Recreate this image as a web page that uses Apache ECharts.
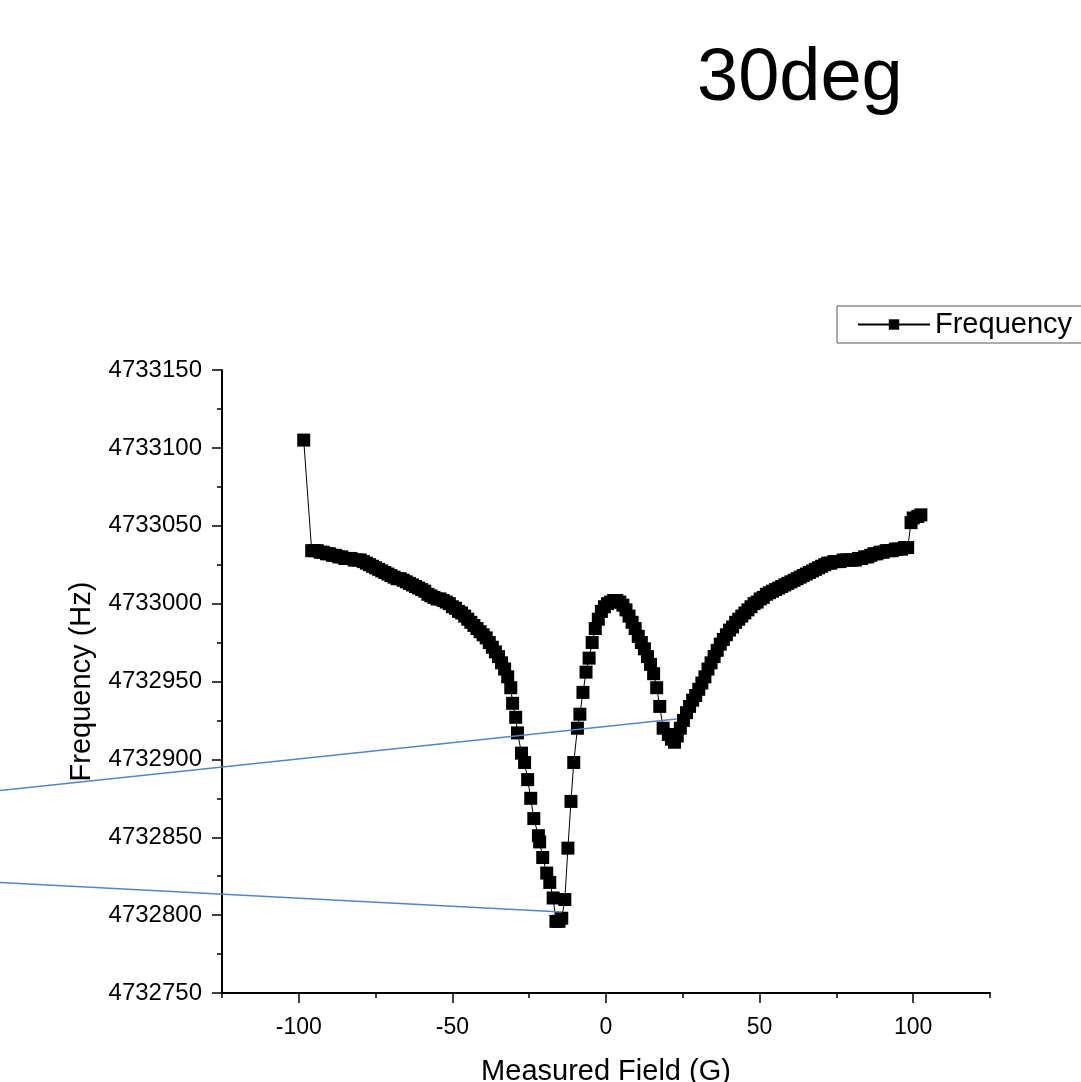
<!DOCTYPE html>
<html>
<head>
<meta charset="utf-8">
<script src="https://cdn.jsdelivr.net/npm/echarts@6/dist/echarts.min.js"></script>
<style>
html,body{margin:0;padding:0;background:#fff;}
#chart{width:1081px;height:1082px;}
</style>
</head>
<body>
<div id="chart"></div>
<script>
// Measured Field (G)
const fieldG = [
  -98.4, -95.8, -95, -94, -93, -92, -91, -90, -89, -88, -87, -86, -85, -84, -83, -82, -81, -80,
  -79, -78, -77, -76, -75, -74, -73, -72, -71, -70, -69, -68, -67, -66, -65, -64, -63, -62, -61,
  -60, -59, -58, -57, -56, -55, -54, -53, -52, -51, -50, -49, -48, -47, -46, -45, -44, -43, -42,
  -41, -40, -39, -38, -37, -36, -35, -34, -33, -32, -31,
  -30.4, -29.4, -28.8, -27.5, -26.5, -25.5, -24.5, -23.5, -22.0, -21.6, -20.6, -19.3, -18.3,
  -17.2, -16.3, -15.3, -14.4, -13.4, -12.4, -11.4, -10.5, -9.3, -8.5, -7.5, -6.5, -5.5, -4.5,
  -3.5, -2.5, -1.5, -0.5, 0.5, 1.5, 2.5, 3.5, 4.5, 5.5, 6.5, 7.5, 8.5, 9.5, 10.5, 11.5, 12.5,
  13.5, 14.5, 15.5, 16.5, 17.5, 18.6, 20.3, 21.3, 22.3, 23.2, 24.2, 25.2, 26.2, 27.2, 28.2,
  29.2, 30.2, 31.2, 32.2, 33.2, 34.2, 35.2, 36.2, 37.2, 38.2, 39.2, 40.2, 41.2, 42.2, 43.2,
  44.2, 45.2, 46.2, 47.2, 48.2, 49.2, 50.2, 51.2, 52.2, 53.2, 54.2, 55.2, 56.2, 57.2, 58.2,
  59.2, 60.2, 61.2, 62.2, 63.2, 64.2, 65.2, 66.2, 67.2, 68.2, 69.2, 70.2, 71.2, 72.2, 73.2,
  74.2, 75.2, 76.2, 77.2, 78.2, 79.2, 80.2, 81.2, 82.2, 83.2, 84.2, 85.2, 86.2, 87.2, 88.2,
  89.2, 90.2, 91.2, 92.2, 93.2, 94.2, 95.2, 96.2, 97.2, 98.2, 99.3, 100.0, 101.5, 102.5, 103.8
];
// Frequency (Hz)
const freqHz = [
  4733105, 4733034, 4733034, 4733034, 4733033, 4733033, 4733032, 4733032, 4733031, 4733031,
  4733030, 4733030, 4733029, 4733029, 4733029, 4733028, 4733028, 4733028,
  4733027, 4733026, 4733025, 4733024, 4733023, 4733022, 4733021, 4733020, 4733019, 4733018,
  4733017, 4733016, 4733016, 4733015, 4733014, 4733013, 4733012, 4733011, 4733010,
  4733009, 4733008, 4733006, 4733005, 4733004, 4733003, 4733003, 4733002, 4733001, 4733000,
  4732998, 4732997, 4732995, 4732994, 4732992, 4732990, 4732988, 4732986, 4732984,
  4732982, 4732980, 4732978, 4732975, 4732972, 4732969, 4732966, 4732962, 4732958, 4732953, 4732946,
  4732936, 4732927, 4732917, 4732904, 4732898, 4732887, 4732875, 4732862, 4732851, 4732847,
  4732837, 4732827, 4732821, 4732811, 4732796, 4732796, 4732798, 4732810, 4732843, 4732873,
  4732898, 4732920, 4732929, 4732943, 4732956, 4732965, 4732975, 4732984, 4732990, 4732995,
  4732998, 4733000, 4733001, 4733002, 4733002, 4733001, 4732999, 4732996, 4732992, 4732988,
  4732984, 4732979, 4732975, 4732971, 4732966, 4732961, 4732955, 4732946, 4732934,
  4732920, 4732916, 4732913, 4732911, 4732915, 4732920, 4732925, 4732930, 4732934,
  4732938, 4732941, 4732945, 4732949, 4732953, 4732958, 4732962, 4732966, 4732970, 4732974,
  4732977, 4732980, 4732983, 4732985, 4732988, 4732990, 4732992, 4732994, 4732996, 4732998,
  4733000, 4733001, 4733003, 4733004, 4733006, 4733007, 4733008, 4733009, 4733010, 4733011,
  4733012, 4733013, 4733014, 4733015, 4733016, 4733017, 4733018, 4733019, 4733020, 4733021,
  4733022, 4733023, 4733024, 4733025, 4733026, 4733026, 4733027, 4733027, 4733027, 4733028,
  4733028, 4733028, 4733028, 4733028, 4733029, 4733029, 4733030, 4733030, 4733031, 4733032,
  4733032, 4733033, 4733033, 4733034, 4733034, 4733034, 4733035, 4733035, 4733035, 4733036,
  4733036, 4733052, 4733055, 4733056, 4733057
];
// Blue annotation lines (field, frequency) endpoints
const annotA_G = [-197.3, 22.9];
const annotA_Hz = [4732880, 4732926];
const annotB_G = [-197.3, -14.4];
const annotB_Hz = [4732821, 4732802];

const xLabelTicks = [-100, -50, 0, 50, 100];
const xMinorTicks = [-125, -75, -25, 25, 75, 125];

const titleText = '30deg';
const seriesName = 'Frequency';
const xName = 'Measured Field (G)';
const yName = 'Frequency (Hz)';

const zip = (a, b) => a.map((v, i) => [v, b[i]]);
const FONT = '"Liberation Sans", Arial, sans-serif';

// plot frame: 222..990 px for -125..125 G; overlay grid spans the full canvas width on the same scale
const GX0 = 222, GW = 768, XMIN = -125, XMAX = 125;
const pxPerG = GW / (XMAX - XMIN);
const overlayMin = XMIN - GX0 / pxPerG;
const overlayMax = XMAX + (1081 - GX0 - GW) / pxPerG;

const chart = echarts.init(document.getElementById('chart'), null, {renderer: 'canvas'});
chart.setOption({
  animation: false,
  backgroundColor: '#fff',
  textStyle: {fontFamily: FONT, color: '#000'},
  title: {
    text: titleText, left: 692, top: 38,
    textStyle: {fontFamily: FONT, fontSize: 74, fontWeight: 'normal', color: '#000'}
  },
  legend: {
    data: [seriesName],
    left: 837, top: 306,
    padding: [4, 20, 4, 20],
    borderColor: '#555', borderWidth: 1,
    itemWidth: 72, itemHeight: 13,
    textStyle: {fontFamily: FONT, fontSize: 29, color: '#000'}
  },
  grid: [
    {left: GX0, top: 370, width: GW, height: 623, containLabel: false, outerBoundsMode: 'none'},
    {left: 0, top: 370, width: 1081, height: 623, containLabel: false, outerBoundsMode: 'none'}
  ],
  xAxis: [{
    type: 'value', gridIndex: 0, min: XMIN, max: XMAX, interval: 25,
    name: xName, nameLocation: 'middle', nameGap: 64,
    nameTextStyle: {fontFamily: FONT, fontSize: 29, color: '#000'},
    axisLine: {show: true, onZero: false, lineStyle: {color: '#000', width: 2}},
    axisTick: {show: true, inside: false, length: 10, customValues: xLabelTicks, lineStyle: {color: '#000', width: 1.5}},
    axisLabel: {customValues: xLabelTicks, margin: 23, fontFamily: FONT, fontSize: 23, color: '#000'},
    splitLine: {show: false}
  }, {
    type: 'value', gridIndex: 0, min: XMIN, max: XMAX, interval: 25, position: 'bottom',
    axisLine: {show: false},
    axisTick: {show: true, inside: false, length: 5, customValues: xMinorTicks, lineStyle: {color: '#000', width: 1.5}},
    axisLabel: {show: false},
    splitLine: {show: false}
  }, {
    type: 'value', gridIndex: 1, min: overlayMin, max: overlayMax, show: false,
    axisLine: {show: false}, axisTick: {show: false}, axisLabel: {show: false}, splitLine: {show: false}
  }],
  yAxis: [{
    type: 'value', gridIndex: 0, min: 4732750, max: 4733150, interval: 50,
    name: yName, nameLocation: 'middle', nameGap: 126, nameRotate: 90,
    nameTextStyle: {fontFamily: FONT, fontSize: 29, color: '#000'},
    axisLine: {show: true, onZero: false, lineStyle: {color: '#000', width: 2}},
    axisTick: {show: true, inside: false, length: 10, lineStyle: {color: '#000', width: 1.5}},
    minorTick: {show: true, splitNumber: 2, length: 5, lineStyle: {color: '#000', width: 1.5}},
    axisLabel: {margin: 20, fontFamily: FONT, fontSize: 24, color: '#000', formatter: v => String(v)},
    splitLine: {show: false},
    minorSplitLine: {show: false}
  }, {
    type: 'value', gridIndex: 1, min: 4732750, max: 4733150, show: false,
    axisLine: {show: false}, axisTick: {show: false}, axisLabel: {show: false}, splitLine: {show: false}
  }],
  series: [{
    name: seriesName, type: 'line', xAxisIndex: 0, yAxisIndex: 0,
    data: zip(fieldG, freqHz),
    symbol: 'rect', symbolSize: 13, showSymbol: true,
    itemStyle: {color: '#000'},
    lineStyle: {color: '#000', width: 1},
    z: 2
  }, {
    name: 'annotA', type: 'line', xAxisIndex: 2, yAxisIndex: 1,
    data: zip(annotA_G, annotA_Hz),
    symbol: 'none', clip: false, silent: true,
    lineStyle: {color: '#4F86C6', width: 1.5}, z: 5
  }, {
    name: 'annotB', type: 'line', xAxisIndex: 2, yAxisIndex: 1,
    data: zip(annotB_G, annotB_Hz),
    symbol: 'none', clip: false, silent: true,
    lineStyle: {color: '#4F86C6', width: 1.5}, z: 5
  }]
});
</script>
</body>
</html>
